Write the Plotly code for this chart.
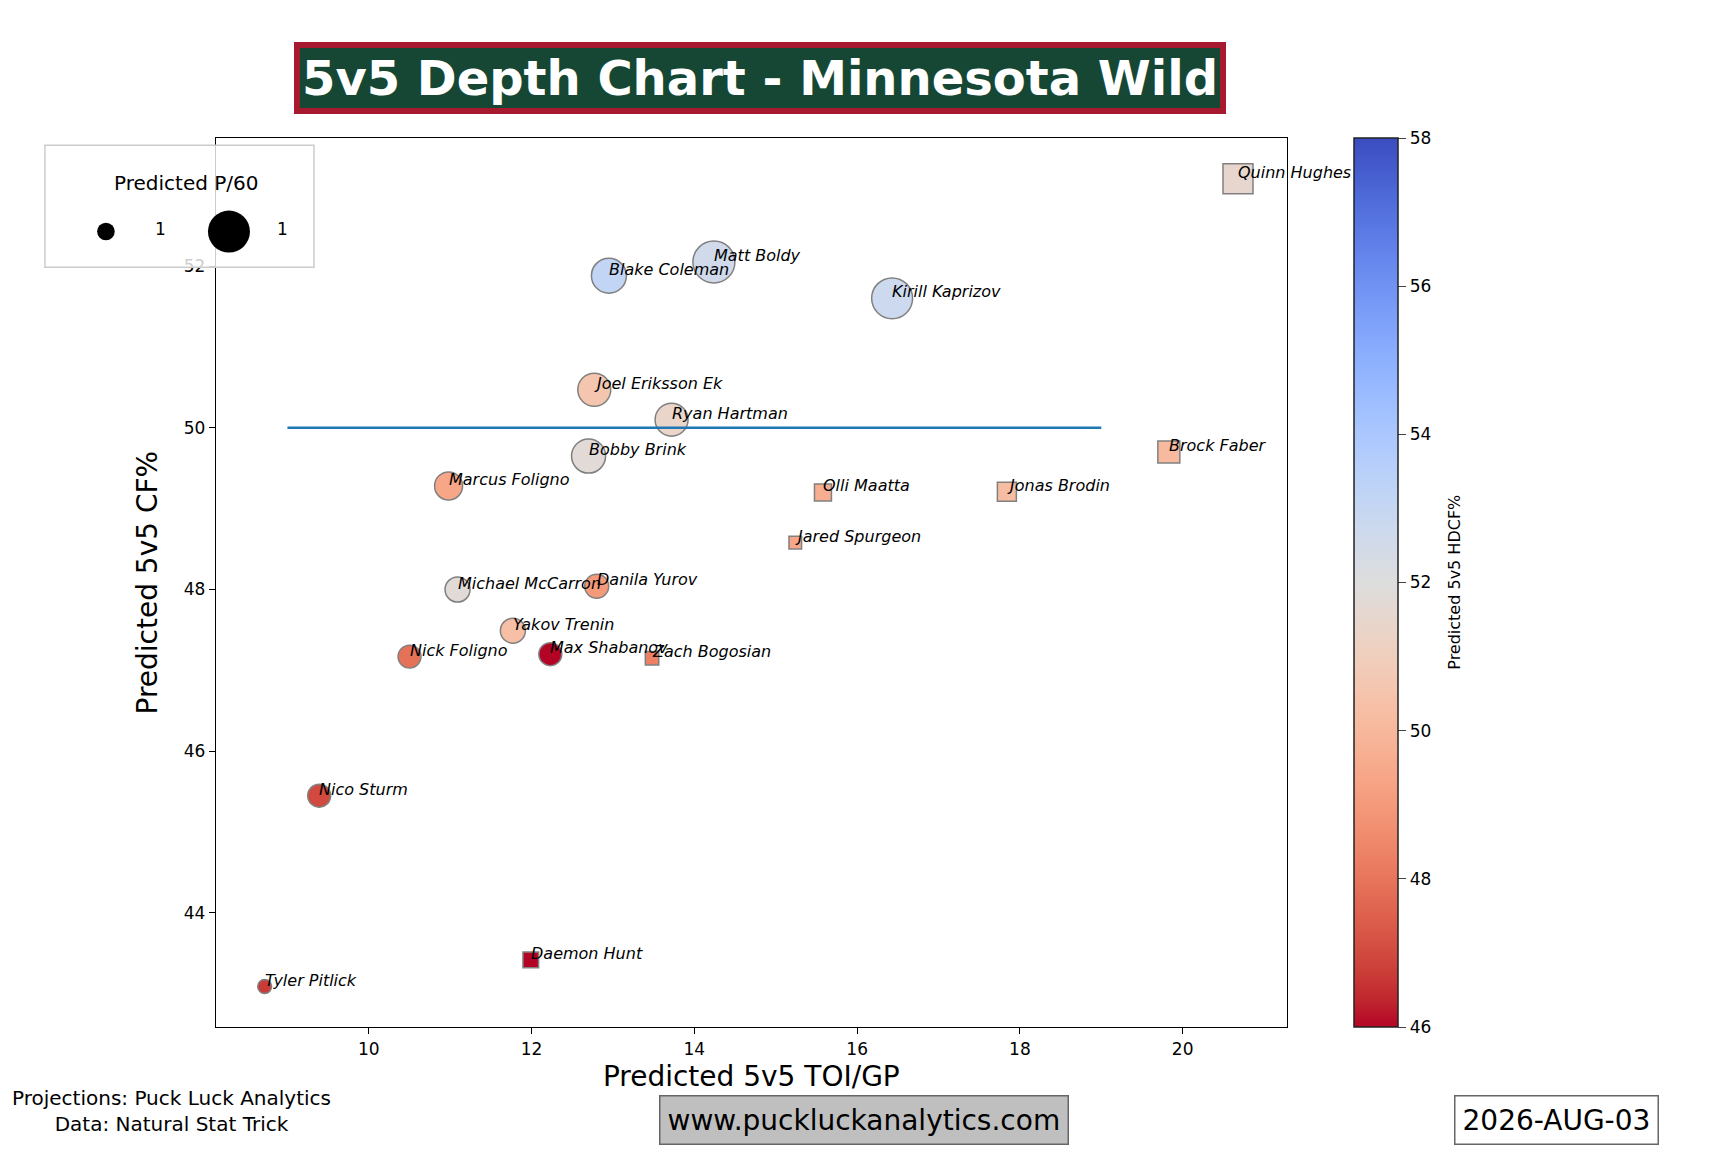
import plotly.graph_objects as go

# Projections
players = ["Quinn Hughes", "Matt Boldy", "Blake Coleman", "Kirill Kaprizov",
           "Joel Eriksson Ek", "Ryan Hartman", "Bobby Brink", "Brock Faber",
           "Marcus Foligno", "Olli Maatta", "Jonas Brodin", "Jared Spurgeon",
           "Michael McCarron", "Danila Yurov", "Yakov Trenin", "Nick Foligno",
           "Max Shabanov", "Zach Bogosian", "Nico Sturm", "Daemon Hunt",
           "Tyler Pitlick"]
positions = ["D", "F", "F", "F", "F", "F", "F", "D", "F", "D", "D", "D",
             "F", "F", "F", "F", "F", "D", "F", "D", "F"]
toi_gp = [20.68, 14.24, 12.95, 16.43, 12.77, 13.72, 12.70, 19.83, 10.98, 15.58,
          17.84, 15.24, 11.09, 12.80, 11.77, 10.50, 12.23, 13.48, 9.39, 11.99, 8.72]
cf_pct = [53.08, 52.05, 51.88, 51.60, 50.47, 50.10, 49.65, 49.70, 49.28, 49.20,
          49.21, 48.58, 48.00, 48.04, 47.49, 47.17, 47.20, 47.15, 45.45, 43.42, 43.09]
hdcf_pct = [51.5, 52.6, 53.1, 52.75, 50.6, 51.4, 51.8, 50.1, 49.4, 49.6,
            50.2, 49.4, 51.8, 49.0, 50.3, 47.9, 46.0, 48.3, 47.0, 46.0, 46.7]
p60 = [1.25, 2.45, 1.70, 2.33, 1.51, 1.51, 1.61, 0.67, 1.09, 0.40,
       0.50, 0.22, 0.87, 0.80, 0.87, 0.73, 0.73, 0.25, 0.73, 0.34, 0.27]

# break-even reference line
ref_x = [9, 19]
ref_y = [50, 50]

# size legend
legend_values = [0.43, 2.45]
legend_labels = ["1", "1"]

# matplotlib coolwarm, reversed so low HDCF% is red
coolwarm = [(59, 76, 192), (68, 90, 204), (77, 104, 215), (87, 117, 225), (98, 130, 234),
            (108, 142, 241), (119, 154, 247), (130, 165, 251), (141, 176, 254), (152, 185, 255),
            (163, 194, 255), (174, 201, 253), (184, 208, 249), (194, 213, 244), (204, 217, 238),
            (213, 219, 230), (221, 221, 221), (229, 216, 209), (236, 211, 197), (241, 204, 185),
            (245, 196, 173), (247, 187, 160), (247, 177, 148), (247, 166, 135), (244, 154, 123),
            (241, 141, 111), (236, 127, 99), (229, 112, 88), (222, 96, 77), (213, 80, 66),
            (203, 62, 56), (192, 40, 47), (180, 4, 38)]
rev = coolwarm[::-1]
colorscale = [[i / (len(rev) - 1), "rgb(%d,%d,%d)" % c] for i, c in enumerate(rev)]

FONT = "DejaVu Sans"
max_px = 42
sizeref = 2 * max(p60) / max_px ** 2

symbols = ["square" if p == "D" else "circle" for p in positions]

fig = go.Figure()
fig.add_trace(go.Scatter(
    x=toi_gp, y=cf_pct, mode="markers",
    marker=dict(size=p60, sizemode="area", sizeref=sizeref, symbol=symbols, opacity=1,
                color=hdcf_pct, colorscale=colorscale, cmin=46, cmax=58,
                line=dict(color="#808080", width=1.5),
                colorbar=dict(x=0.7835, xanchor="left", y=0.1085, yanchor="bottom",
                              len=0.7715, lenmode="fraction", thickness=44,
                              xpad=0, ypad=0, outlinewidth=1.5, outlinecolor="#222",
                              tickvals=[46, 48, 50, 52, 54, 56, 58], ticks="outside",
                              ticklen=8, tickfont=dict(size=17, family=FONT, color="black"))),
    hoverinfo="skip", showlegend=False,
))
fig.add_trace(go.Scatter(x=ref_x, y=ref_y, mode="lines",
                         line=dict(color="#1f77b4", width=2.5),
                         hoverinfo="skip", showlegend=False))

annotations = []
for name, x, y in zip(players, toi_gp, cf_pct):
    annotations.append(dict(x=x, y=y, xref="x", yref="y", text=name, showarrow=False,
                            xanchor="left", yanchor="bottom", xshift=-2, yshift=-5,
                            font=dict(size=16, family=FONT, color="black", style="italic")))

# colorbar label
annotations.append(dict(x=0.842, y=0.495, xref="paper", yref="paper", textangle=-90,
                        xanchor="center", yanchor="middle", showarrow=False,
                        text="Predicted 5v5 HDCF%",
                        font=dict(size=16, family=FONT, color="black")))
# title box
annotations.append(dict(x=0.44, y=0.932, xref="paper", yref="paper",
                        xanchor="center", yanchor="middle",
                        text="<b>5v5 Depth Chart - Minnesota Wild</b>", showarrow=False,
                        font=dict(size=48, family=FONT, color="white"),
                        bgcolor="#154734", bordercolor="#A6192E", borderwidth=6, borderpad=2))
# footer
annotations.append(dict(x=0.0995, y=0.0356, xref="paper", yref="paper",
                        xanchor="center", yanchor="middle",
                        text="Projections: Puck Luck Analytics<br>Data: Natural Stat Trick",
                        showarrow=False, align="center",
                        font=dict(size=20, family=FONT, color="black")))
annotations.append(dict(x=0.5, y=0.0278, xref="paper", yref="paper",
                        xanchor="center", yanchor="middle",
                        text="www.puckluckanalytics.com", showarrow=False,
                        font=dict(size=28, family=FONT, color="black"),
                        bgcolor="#bfbfbf", bordercolor="#666666", borderwidth=1.5, borderpad=7))
annotations.append(dict(x=0.9005, y=0.0278, xref="paper", yref="paper",
                        xanchor="center", yanchor="middle",
                        text="2026-AUG-03", showarrow=False,
                        font=dict(size=28, family=FONT, color="black"),
                        bgcolor="white", bordercolor="#666666", borderwidth=1.5, borderpad=7))

# size legend (drawn by hand, plotly caps legend marker size)
shapes = [dict(type="rect", xref="paper", yref="paper", x0=0.026, x1=0.1817,
               y0=0.768, y1=0.874, line=dict(color="#cccccc", width=1.5),
               fillcolor="rgba(255,255,255,0.8)", layer="above")]
annotations.append(dict(x=0.108, y=0.841, xref="paper", yref="paper", text="Predicted P/60",
                        xanchor="center", yanchor="middle",
                        showarrow=False, font=dict(size=20, family=FONT, color="black")))
for v, lab, cx, lx in zip(legend_values, legend_labels, [0.0613, 0.1325], [0.0926, 0.1632]):
    r = max_px * (v / max(p60)) ** 0.5 / 2
    shapes.append(dict(type="circle", xref="paper", yref="paper", xsizemode="pixel",
                       ysizemode="pixel", xanchor=cx, yanchor=0.799, x0=-r, x1=r, y0=-r, y1=r,
                       fillcolor="black", line=dict(color="black", width=0), layer="above"))
    annotations.append(dict(x=lx, y=0.801, xref="paper", yref="paper", text=lab,
                            xanchor="center", yanchor="middle",
                            showarrow=False, font=dict(size=17, family=FONT, color="black")))

axis_common = dict(showline=True, mirror=True, linecolor="black", linewidth=1.3,
                   showgrid=False, zeroline=False, ticks="outside", ticklen=6,
                   tickcolor="black", tickfont=dict(size=17, family=FONT, color="black"))

fig.update_layout(
    width=1728, height=1152, autosize=False,
    margin=dict(l=0, r=0, t=0, b=0),
    paper_bgcolor="white", plot_bgcolor="white",
    xaxis=dict(domain=[0.1249, 0.7447], range=[8.12, 21.28], dtick=2,
               title=dict(text="Predicted 5v5 TOI/GP", standoff=8,
                          font=dict(size=28, family=FONT, color="black")),
               **axis_common),
    yaxis=dict(domain=[0.1085, 0.880], range=[42.59, 53.58], dtick=2,
               title=dict(text="Predicted 5v5 CF%", standoff=17,
                          font=dict(size=28, family=FONT, color="black")),
               **axis_common),
    annotations=annotations,
    shapes=shapes,
)

fig.write_html("out.html", config={"displayModeBar": False},
               post_script="document.body.style.margin='0px';")
